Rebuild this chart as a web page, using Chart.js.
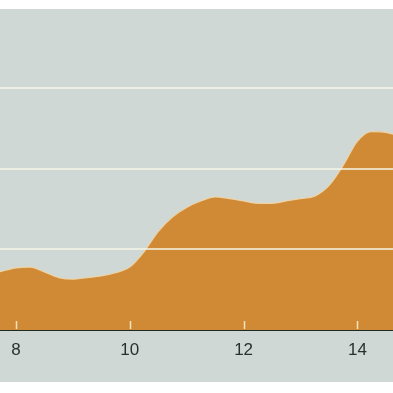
<!DOCTYPE html>
<html>
<head>
<meta charset="utf-8">
<script src="https://cdn.jsdelivr.net/npm/chart.js@4"></script>
<style>
    html, body { margin: 0; padding: 0; background: #ffffff; }
    #wrap { width: 393px; height: 393px; position: relative; }
</style>
</head>
<body>
<div id="wrap"><canvas id="areaChart" width="393" height="393"></canvas></div>
<script>
// x positions and filled level
var xValues = [7.7, 8.0, 8.25, 8.5, 8.75, 9.0, 9.25, 9.5, 9.75, 10.0, 10.25, 10.5, 10.75, 11.0, 11.25,
    11.5, 11.75, 12.0, 12.25, 12.5, 12.75, 13.0, 13.25, 13.5, 13.75, 14.0, 14.25, 14.5, 14.75];
var levelValues = [0.72, 0.77, 0.78, 0.72, 0.65, 0.63, 0.65, 0.67, 0.71, 0.78, 0.97, 1.22, 1.40, 1.52, 1.60,
    1.65, 1.63, 1.60, 1.57, 1.57, 1.60, 1.63, 1.66, 1.79, 2.04, 2.34, 2.46, 2.45, 2.40];
var xTickLabels = [8, 10, 12, 14];
var yGridValues = [1, 2, 3];

var Manager = {
    BuildPoints: function () {
        var pts = [];
        for (var i = 0; i < xValues.length; i++) {
            pts.push({ x: xValues[i], y: levelValues[i] });
        }
        return pts;
    },

    // gray panel behind the plot and below the axis
    PanelPlugin: {
        id: 'panel',
        beforeDraw: function (chart) {
            var ctx = chart.ctx;
            ctx.save();
            ctx.fillStyle = '#ffffff';
            ctx.fillRect(0, 0, chart.width, chart.height);
            ctx.fillStyle = '#cfd8d5';
            ctx.fillRect(0, 9, chart.width, 373);
            ctx.restore();
        }
    },

    // short pale tick marks pointing up into the plot
    TickPlugin: {
        id: 'upticks',
        afterDraw: function (chart) {
            var ctx = chart.ctx;
            var xs = chart.scales.x;
            var bottom = chart.chartArea.bottom;
            ctx.save();
            ctx.strokeStyle = 'rgba(250,235,200,0.9)';
            ctx.lineWidth = 1.5;
            xTickLabels.forEach(function (v) {
                var px = Math.round(xs.getPixelForValue(v)) + 0.5;
                ctx.beginPath();
                ctx.moveTo(px, bottom - 9);
                ctx.lineTo(px, bottom - 1);
                ctx.stroke();
            });
            ctx.restore();
        }
    },

    DrawAreaChart: function (ChartId) {
        var canvas = document.getElementById(ChartId).getContext('2d');
        var chart = new Chart(canvas, {
            type: 'line',
            data: {
                datasets: [{
                    data: Manager.BuildPoints(),
                    fill: 'origin',
                    backgroundColor: '#d08a36',
                    borderColor: 'rgba(238,214,170,0.9)',
                    borderWidth: 1.2,
                    pointRadius: 0,
                    tension: 0.4,
                    cubicInterpolationMode: 'monotone'
                }]
            },
            options: {
                responsive: false,
                animation: false,
                layout: { padding: { top: 9, left: 0, right: 0, bottom: 0 } },
                plugins: { legend: { display: false }, tooltip: { enabled: false } },
                scales: {
                    x: {
                        type: 'linear',
                        min: 7.719,
                        max: 14.626,
                        afterBuildTicks: function (scale) {
                            scale.ticks = xTickLabels.map(function (v) { return { value: v }; });
                        },
                        afterFit: function (scale) { scale.height = 63; },
                        grid: { display: false, drawTicks: false },
                        border: { display: true, color: '#1f2a22', width: 2 },
                        ticks: {
                            padding: 10,
                            color: '#26322f',
                            font: { family: 'Liberation Sans, Arial, sans-serif', size: 17 },
                            maxRotation: 0
                        }
                    },
                    y: {
                        min: 0,
                        max: 3.98,
                        afterBuildTicks: function (scale) {
                            scale.ticks = yGridValues.map(function (v) { return { value: v }; });
                        },
                        afterFit: function (scale) { scale.width = 0; },
                        grid: { color: 'rgba(245,245,230,0.75)', lineWidth: 2, drawTicks: false, z: 1 },
                        border: { display: false },
                        ticks: { display: false }
                    }
                }
            },
            plugins: [Manager.PanelPlugin, Manager.TickPlugin]
        });
        return chart;
    }
};

Manager.DrawAreaChart('areaChart');
</script>
</body>
</html>
